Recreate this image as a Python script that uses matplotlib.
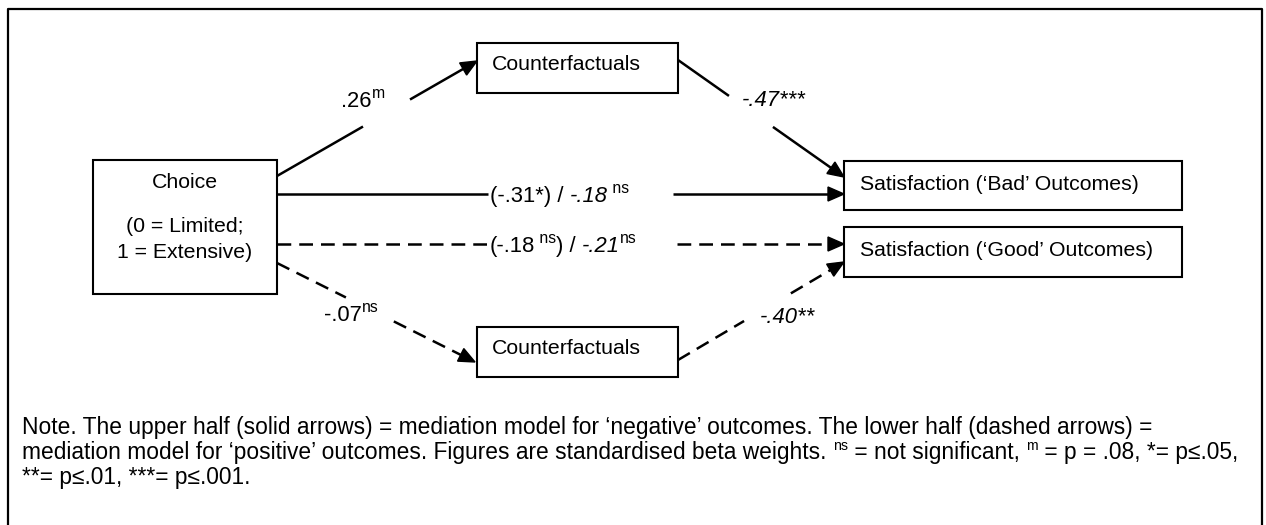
import matplotlib.pyplot as plt
from matplotlib.patches import Rectangle, Polygon
import numpy as np

plt.rcParams['font.family'] = ['Liberation Sans', 'DejaVu Sans']

# variables of the two mediation models
choice_lines = ['Choice', '(0 = Limited;', '1 = Extensive)']
mediator = 'Counterfactuals'
outcome_bad = 'Satisfaction (‘Bad’ Outcomes)'
outcome_good = 'Satisfaction (‘Good’ Outcomes)'

# standardised betas as runs of (text, style): n = normal, i = italic, s = superscript
beta_choice_cf_bad = [('.26', 'n'), ('m', 's')]
beta_cf_sat_bad = [('-.47***', 'i')]
beta_direct_bad = [('(-.31*) / ', 'n'), ('-.18', 'i'), (' ns', 's')]
beta_direct_good = [('(-.18', 'n'), (' ns', 's'), (') / ', 'n'), ('-.21', 'i'), ('ns', 's')]
beta_choice_cf_good = [('-.07', 'n'), ('ns', 's')]
beta_cf_sat_good = [('-.40**', 'i')]

note_lines = [
    [('Note. The upper half (solid arrows) = mediation model for ‘negative’ outcomes. '
      'The lower half (dashed arrows) =', 'n')],
    [('mediation model for ‘positive’ outcomes. Figures are standardised beta weights. ', 'n'),
     ('ns', 's'), (' = not significant, ', 'n'), ('m', 's'), (' = p = .08, *= p≤.05,', 'n')],
    [('**= p≤.01, ***= p≤.001.', 'n')],
]

FS = 15.3        # box text
FS_EDGE = 15.8   # path coefficients
FS_NOTE = 16.4   # note below the diagram
PX = 100 / 72.0

fig = plt.figure(figsize=(12.66, 5.25), dpi=100)
ax = fig.add_axes([0, 0, 1, 1])
ax.set_xlim(0, 1266)
ax.set_ylim(525, 0)
ax.axis('off')
renderer = fig.canvas.get_renderer()


def text_width(txt, **kw):
    # measure with a bar on the end so spaces count
    t1 = ax.text(0, 0, txt + '|', **kw)
    t2 = ax.text(0, 0, '|', **kw)
    w = t1.get_window_extent(renderer).width - t2.get_window_extent(renderer).width
    t1.remove()
    t2.remove()
    return w


def put_runs(x, y, parts, size=FS_EDGE, sup=0.72):
    base = y + 0.36 * size * PX
    for txt, style in parts:
        if style == 's':
            kw = dict(fontsize=size * sup)
            yy = base - 0.40 * size * PX
        else:
            kw = dict(fontsize=size, style='italic' if style == 'i' else 'normal')
            yy = base
        ax.text(x, yy, txt, va='baseline', ha='left', zorder=5, **kw)
        x += text_width(txt, **kw)


def box(x0, y0, x1, y1):
    ax.add_patch(Rectangle((x0, y0), x1 - x0, y1 - y0, facecolor='white',
                           edgecolor='black', lw=1.5, zorder=3))


def path(p0, p1, gap, dashed=False):
    p0 = np.array(p0, float)
    p1 = np.array(p1, float)
    d = p1 - p0
    u = d / np.linalg.norm(d)
    n = np.array([-u[1], u[0]])
    ls = (0, (5.5, 3.2)) if dashed else '-'
    a = p0 + d * gap[0]
    b = p0 + d * gap[1]
    base = p1 - u * 16
    ax.plot([p0[0], a[0]], [p0[1], a[1]], color='black', lw=1.8, ls=ls, solid_capstyle='butt', zorder=2)
    ax.plot([b[0], base[0]], [b[1], base[1]], color='black', lw=1.8, ls=ls, solid_capstyle='butt', zorder=2)
    ax.add_patch(Polygon([p1, base + n * 7, base - n * 7], closed=True, color='black', zorder=4))


# outer frame (open at the bottom)
ax.plot([8, 8, 1262, 1262], [525, 9, 9, 525], color='black', lw=1.6, zorder=1)

# boxes
box(93, 160, 277, 294)
box(477, 43, 678, 93)
box(844, 161, 1182, 210)
box(844, 227, 1182, 277)
box(477, 327, 678, 377)

for line, yy in zip(choice_lines, [182, 227, 253]):
    ax.text(185, yy, line, ha='center', va='center', fontsize=FS, zorder=5)
ax.text(492, 64, mediator, ha='left', va='center', fontsize=FS, zorder=5)
ax.text(492, 348, mediator, ha='left', va='center', fontsize=FS, zorder=5)
ax.text(860, 185, outcome_bad, ha='left', va='center', fontsize=FS, zorder=5)
ax.text(860, 250, outcome_good, ha='left', va='center', fontsize=FS, zorder=5)

# paths, negative outcomes (solid)
path((277, 176), (477, 61), (0.43, 0.665))
put_runs(341, 99, beta_choice_cf_bad)
path((678, 60), (844, 177), (0.307, 0.572))
put_runs(742, 98, beta_cf_sat_bad)
path((277, 194), (844, 194), (0.372, 0.698))
put_runs(490, 194, beta_direct_bad)

# paths, positive outcomes (dashed)
path((277, 244), (844, 244), (0.372, 0.706), dashed=True)
put_runs(490, 244, beta_direct_good)
path((277, 263), (475, 362), (0.348, 0.59), dashed=True)
put_runs(324, 313, beta_choice_cf_good)
path((678, 360), (844, 262), (0.398, 0.68), dashed=True)
put_runs(760, 315, beta_cf_sat_good)

# note
for parts, yy in zip(note_lines, [426, 451, 476]):
    put_runs(22, yy, parts, size=FS_NOTE, sup=0.62)

fig.savefig('out.png', dpi=100)
